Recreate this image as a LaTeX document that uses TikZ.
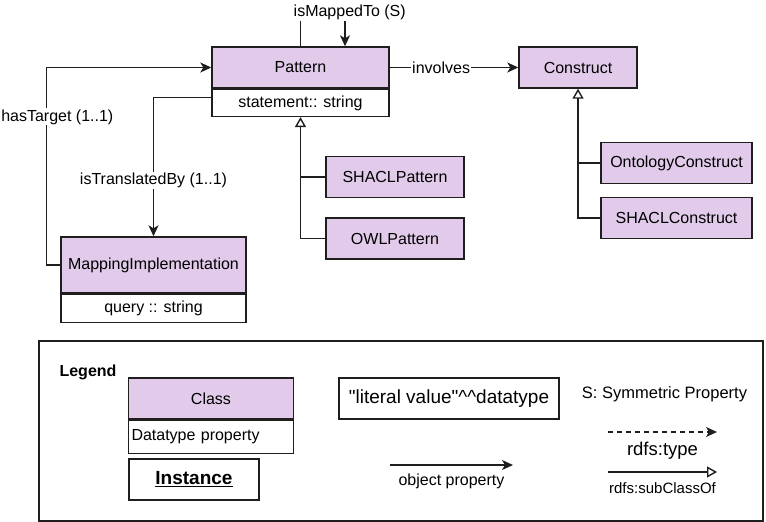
\documentclass[tikz,border=0pt]{standalone}
\usepackage{fontspec}
\setmainfont{Liberation Sans}
\usetikzlibrary{arrows.meta,positioning}
\definecolor{clsfill}{RGB}{226,202,234}
\definecolor{ln}{RGB}{30,30,30}
\tikzset{>={Stealth[length=11pt,width=10pt,inset=3pt]},every node/.style={font=\fontsize{16}{19}\selectfont},
 cls/.style={draw=ln,fill=clsfill,line width=1.4pt,inner sep=0pt,minimum height=41pt},
 attr/.style={draw=ln,fill=white,line width=1.4pt,inner sep=0pt},
 flow/.style={draw=ln,line width=1.4pt,->},edge/.style={draw=ln,line width=1.4pt},
 gen/.style={draw=ln,line width=1.4pt,-{Triangle[open,length=10pt,width=11pt]}},
 lbl/.style={fill=white,inner sep=1pt}}

\begin{document}
\begin{tikzpicture}[x=1pt,y=-1pt]
\useasboundingbox (0,0) rectangle (766,522);
\node[cls,minimum width=177pt] (pattern) at (300.5,67.5) {Pattern};
\node[attr,minimum width=177pt,minimum height=27pt,below=0pt of pattern] (patternattr) {statement:: string};
\node[cls,minimum width=118pt] (construct) at (578,67.5) {Construct};
\node[cls,minimum width=151pt] (ontology) at (676.5,163) {OntologyConstruct};
\node[cls,minimum width=151pt] (shaclc) at (676.5,218) {SHACLConstruct};
\node[cls,minimum width=138pt] (shaclp) at (395,177) {SHACLPattern};
\node[cls,minimum width=138pt] (owlp) at (395,238.5) {OWLPattern};
\node[cls,minimum width=185pt,minimum height=56pt] (mapimpl) at (153.5,265) {MappingImplementation};
\node[attr,minimum width=185pt,minimum height=28pt,below=0pt of mapimpl] (mapattr) {query :: string};
\draw[flow] (pattern.north) -- ++(0,-34) node[lbl,anchor=west,xshift=-8.5pt]{isMappedTo (S)} -| ([xshift=44.5pt]pattern.north);
\draw[flow] (pattern.east) -- node[lbl,pos=.4]{involves} (construct.west);
\draw[flow] ([yshift=5.5pt]patternattr.west) -| node[lbl,pos=.8]{isTranslatedBy (1..1)} (mapimpl.north);
\draw[flow] (mapimpl.west) -- ++(-14,0) |- node[lbl,pos=.375,xshift=11pt]{hasTarget (1..1)} (pattern.west);
\draw[gen] (owlp.west) -| (patternattr.south);
\draw[edge] (shaclp.west) -- (shaclp.west -| patternattr.south);
\draw[gen] (shaclc.west) -| (construct.south);
\draw[edge] (ontology.west) -- (ontology.west -| construct.south);
\node[draw=ln,line width=1.2pt,inner sep=0pt,minimum width=724pt,minimum height=180pt] (legend) at (401,431) {};
\node (legendtitle) at (88,372) {\textbf{Legend}};
\node[cls,minimum width=165pt] (classbox) at (211,398.5) {Class};
\node[attr,text width=159pt,inner xsep=3pt,minimum height=33pt,align=left,below=0pt of classbox] (dtbox) {Datatype property};
\node[attr,minimum width=130pt,minimum height=41pt,font=\fontsize{19}{22}\selectfont] (instbox) at (194,479.5) {\underline{\textbf{Instance}}};
\node[attr,minimum width=220pt,minimum height=41pt,font=\fontsize{19}{22}\selectfont] (litbox) at (449,398.5) {\textquotedbl literal value\textquotedbl\^{}\^{}datatype};
\node[font=\fontsize{16.5}{19}\selectfont] (symnote) at (664.5,394) {S: Symmetric Property};
\coordinate (op1) at (390,465); \coordinate (op2) at (513,465);
\draw[flow] (op1) -- node[lbl,below=7pt]{object property} (op2);
\coordinate (ty1) at (608,432); \coordinate (ty2) at (717,432);
\draw[flow,dash pattern=on 5pt off 4pt] (ty1) -- node[lbl,below=8pt,font=\fontsize{18.5}{22}\selectfont]{rdfs:type} (ty2);
\coordinate (sc1) at (608,472); \coordinate (sc2) at (717,472);
\draw[gen] (sc1) -- node[lbl,below=8.5pt,font=\fontsize{15}{18}\selectfont]{rdfs:subClassOf} (sc2);
\end{tikzpicture}
\end{document}
